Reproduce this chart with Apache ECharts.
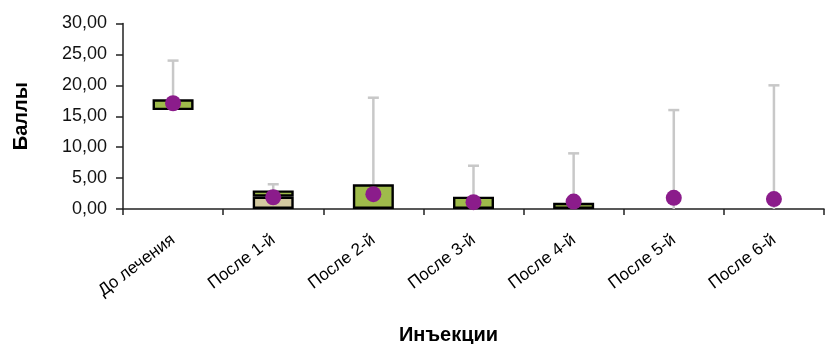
<!DOCTYPE html>
<html>
<head>
<meta charset="utf-8">
<script src="https://cdn.jsdelivr.net/npm/echarts@6/dist/echarts.min.js"></script>
<style>html,body{margin:0;padding:0;background:#fff;}#c{width:825px;height:344px;}</style>
</head>
<body>
<div id="c"></div>
<script>
var categories = ['До лечения', 'После 1-й', 'После 2-й', 'После 3-й', 'После 4-й', 'После 5-й', 'После 6-й'];
var q1Values = [16, 0, 0, 0, 0, 0, 0];
var medianValues = [16, 2, 0, 0, 0, 0, 0];
var q3Values = [17.75, 3, 4, 2, 1, 0, 0];
var maxValues = [24, 4, 18, 7, 9, 16, 20];
var meanValues = [17.1, 1.9, 2.4, 1.1, 1.2, 1.8, 1.6];
var yTicks = [0, 5, 10, 15, 20, 25, 30];

function nz(v) { return v > 0 ? v : null; }
var baseSeg = q1Values.map(nz);
var lowSeg = medianValues.map(function (m, i) { return nz(+(m - q1Values[i]).toFixed(4)); });
var highSeg = q3Values.map(function (q, i) { return nz(+(q - medianValues[i]).toFixed(4)); });
var whiskerData = categories.map(function (c, i) { return [i, q3Values[i], maxValues[i]]; });
var meanData = categories.map(function (c, i) { return [i, meanValues[i]]; });

var font = "'Liberation Sans', Arial, sans-serif";
var chart = echarts.init(document.getElementById('c'), null, { renderer: 'canvas' });
chart.setOption({
  animation: false,
  grid: { left: 123, right: 1, top: 23.5, bottom: 135, outerBoundsMode: 'none', containLabel: false },
  xAxis: {
    type: 'category',
    data: categories,
    name: 'Инъекции',
    nameLocation: 'middle',
    nameGap: 116,
    nameTextStyle: { fontFamily: font, fontWeight: 'bold', fontSize: 20, color: '#000', padding: [0, 50, 0, 0] },
    axisLine: { lineStyle: { color: '#222', width: 1.5 } },
    axisTick: { show: true, length: 6, lineStyle: { color: '#222', width: 1.5 } },
    axisLabel: { rotate: 37, margin: 29, fontFamily: font, fontSize: 17, color: '#000' }
  },
  yAxis: {
    type: 'value',
    min: yTicks[0],
    max: yTicks[yTicks.length - 1],
    interval: 5,
    name: 'Баллы',
    nameLocation: 'middle',
    nameRotate: 90,
    nameGap: 92,
    nameTextStyle: { fontFamily: font, fontWeight: 'bold', fontSize: 20, color: '#000' },
    splitLine: { show: false },
    axisLine: { show: true, lineStyle: { color: '#222', width: 1.5 } },
    axisTick: { show: true, length: 7, lineStyle: { color: '#222', width: 1.5 } },
    axisLabel: {
      margin: 16,
      fontFamily: font,
      fontSize: 18,
      color: '#111',
      formatter: function (v) { return v.toFixed(2).replace('.', ','); }
    }
  },
  series: [
    {
      type: 'custom',
      z: 1,
      renderItem: function (params, api) {
        var x = api.value(0);
        var lo = api.coord([x, api.value(1)]);
        var hi = api.coord([x, api.value(2)]);
        return {
          type: 'group',
          children: [
            { type: 'line', shape: { x1: lo[0], y1: lo[1], x2: hi[0], y2: hi[1] }, style: { stroke: '#c8c8c8', lineWidth: 2.5 } },
            { type: 'line', shape: { x1: hi[0] - 5.5, y1: hi[1], x2: hi[0] + 5.5, y2: hi[1] }, style: { stroke: '#c8c8c8', lineWidth: 2.5 } }
          ]
        };
      },
      data: whiskerData
    },
    {
      type: 'bar', stack: 'box', barWidth: 41, z: 2,
      itemStyle: { color: 'rgba(0,0,0,0)' },
      data: baseSeg
    },
    {
      type: 'bar', stack: 'box', barWidth: 41, z: 2,
      itemStyle: { color: '#d3c9a0', borderColor: '#000', borderWidth: 2.4 },
      data: lowSeg
    },
    {
      type: 'bar', stack: 'box', barWidth: 41, z: 2,
      itemStyle: { color: '#9fbb4b', borderColor: '#000', borderWidth: 2.4 },
      data: highSeg
    },
    {
      type: 'scatter', z: 5,
      symbol: 'circle', symbolSize: 16,
      itemStyle: { color: '#8b1c8b', opacity: 1 },
      data: meanData
    }
  ]
});
</script>
</body>
</html>
